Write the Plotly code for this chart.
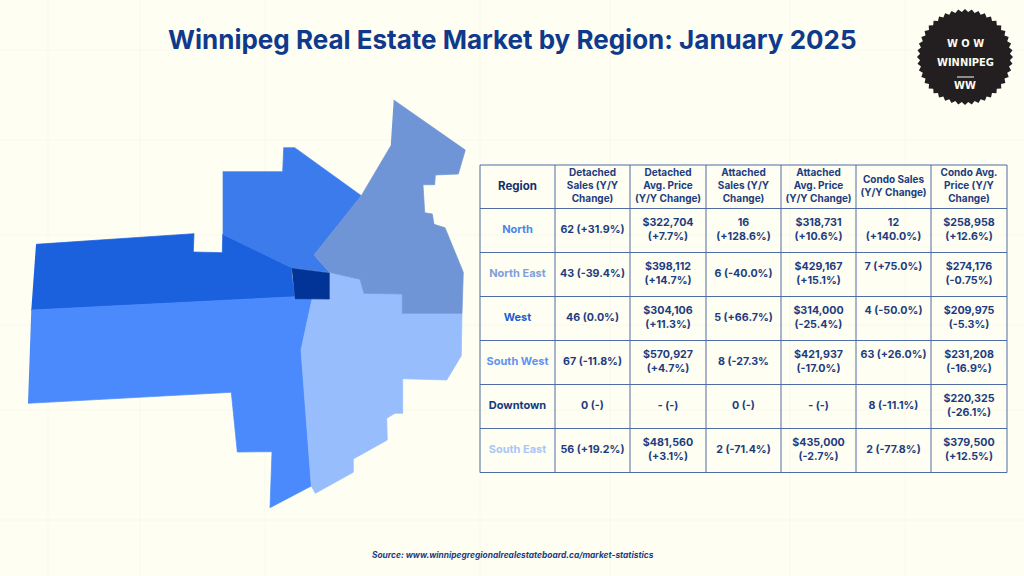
import numpy as np
import plotly.graph_objects as go

BG = "#fefef3"
NAVY = "#1d3c80"

title = "Winnipeg Real Estate Market by Region: January 2025"
source = "Source: www.winnipegregionalrealestateboard.ca/market-statistics"

# map outlines in page pixels
west_x = [36, 194, 193.3, 222.3, 222.7, 291.7, 292, 295, 31.3]
west_y = [244.3, 233.7, 252, 252.7, 234.3, 267.7, 276.7, 296.7, 310]
north_x = [222.7, 282.7, 283.7, 294.7, 361.3, 314, 329.3, 291.7, 222.7]
north_y = [171.7, 171.7, 147.7, 147.7, 195.7, 255, 272.3, 267.7, 234.3]
north_east_x = [393.7, 465.3, 458.3, 435.3, 434.7, 423, 424.7, 432.3, 434, 445, 463.3, 462, 402.3, 402.3, 364, 360, 329.3, 314, 361.3, 390.7]
north_east_y = [100, 150, 174, 175, 184.7, 184.7, 212.7, 214, 224.3, 227.7, 272.3, 313.3, 313.3, 294, 293.3, 279.3, 272.3, 255, 195.7, 146]
downtown_x = [291.7, 329.3, 329.3, 295]
downtown_y = [268.3, 273, 299, 298.7]
south_west_x = [31.3, 295, 312, 301, 311.3, 270, 272, 237.3, 231.3, 28]
south_west_y = [310, 296.7, 299, 350, 486, 507.7, 451.7, 452, 392.3, 403.3]
south_east_x = [329.3, 360, 364, 402.3, 402.3, 462, 461.3, 446.7, 402.7, 402.7, 395, 386.7, 387.3, 353.3, 353.3, 315.3, 311.3, 301, 312, 329.3]
south_east_y = [272.3, 279.3, 293.3, 294, 313.3, 313.3, 355.7, 380, 378.7, 413.3, 413.3, 418.3, 440, 459, 472.3, 493.3, 486, 350, 299, 299]

region_shapes = [
    (west_x, west_y, "#1b60dc", "West"),
    (south_west_x, south_west_y, "#4a8afc", "South West"),
    (north_x, north_y, "#3b7bec", "North"),
    (south_east_x, south_east_y, "#97bdfd", "South East"),
    (north_east_x, north_east_y, "#7095d6", "North East"),
    (downtown_x, downtown_y, "#023497", "Downtown"),
]

# table
col_edges = [480, 555, 630, 706, 781, 856, 931, 1007]
row_edges = [165, 208.5, 252.5, 296.5, 340.5, 384.5, 428.5, 472.5]

headers = [
    "Region",
    "Detached<br>Sales (Y/Y<br>Change)",
    "Detached<br>Avg. Price<br>(Y/Y Change)",
    "Attached<br>Sales (Y/Y<br>Change)",
    "Attached<br>Avg. Price<br>(Y/Y Change)",
    "Condo Sales<br>(Y/Y Change)",
    "Condo Avg.<br>Price (Y/Y<br>Change)",
]
regions = ["North", "North East", "West", "South West", "Downtown", "South East"]
region_colors = ["#4a86e8", "#7f9fdc", "#1f5fd0", "#5f93f2", "#123a80", "#aac6f6"]
detached_sales = ["62 (+31.9%)", "43 (-39.4%)", "46 (0.0%)", "67 (-11.8%)", "0 (-)", "56 (+19.2%)"]
detached_price = ["$322,704<br>(+7.7%)", "$398,112<br>(+14.7%)", "$304,106<br>(+11.3%)",
                  "$570,927<br>(+4.7%)", "- (-)", "$481,560<br>(+3.1%)"]
attached_sales = ["16<br>(+128.6%)", "6 (-40.0%)", "5 (+66.7%)", "8 (-27.3%", "0 (-)", "2 (-71.4%)"]
attached_price = ["$318,731<br>(+10.6%)", "$429,167<br>(+15.1%)", "$314,000<br>(-25.4%)",
                  "$421,937<br>(-17.0%)", "- (-)", "$435,000<br>(-2.7%)"]
condo_sales = ["12<br>(+140.0%)", "7 (+75.0%)<br> ", "4 (-50.0%)<br> ", "63 (+26.0%)<br> ", "8 (-11.1%)", "2 (-77.8%)"]
condo_price = ["$258,958<br>(+12.6%)", "$274,176<br>(-0.75%)", "$209,975<br>(-5.3%)",
               "$231,208<br>(-16.9%)", "$220,325<br>(-26.1%)", "$379,500<br>(+12.5%)"]
body_cols = [detached_sales, detached_price, attached_sales, attached_price, condo_sales, condo_price]

fig = go.Figure()

# faint paper texture
for x in [48, 140, 265, 480, 610, 790, 905]:
    fig.add_shape(type="line", x0=x, x1=x, y0=0, y1=576, line=dict(color="#f9f9ea", width=1), layer="below")
for y in [50, 140, 235, 325, 410, 520]:
    fig.add_shape(type="line", x0=0, x1=1024, y0=y, y1=y, line=dict(color="#f9f9ea", width=1), layer="below")

# thin outline in the fill colour closes the seams between regions
for xs, ys, color, name in region_shapes:
    fig.add_trace(go.Scatter(x=xs, y=ys, fill="toself", fillcolor=color, mode="lines",
                             line=dict(width=0.7, color=color), name=name, hoverinfo="name"))

# grid
for x in col_edges:
    fig.add_shape(type="line", x0=x, x1=x, y0=row_edges[0], y1=row_edges[-1], line=dict(color="#4f6ca4", width=1))
for y in row_edges:
    fig.add_shape(type="line", x0=col_edges[0], x1=col_edges[-1], y0=y, y1=y, line=dict(color="#4f6ca4", width=1))

col_mid = [(a + b) / 2 for a, b in zip(col_edges[:-1], col_edges[1:])]
row_mid = [(a + b) / 2 for a, b in zip(row_edges[:-1], row_edges[1:])]

# header row
fig.add_trace(go.Scatter(x=col_mid[1:], y=[row_mid[0]] * 6, mode="text", text=["<b>%s</b>" % h for h in headers[1:]],
                         textfont=dict(family="Inter", size=10, color=NAVY), hoverinfo="skip"))
fig.add_trace(go.Scatter(x=[col_mid[0]], y=[row_mid[0]], mode="text", text=["<b>%s</b>" % headers[0]],
                         textfont=dict(family="Inter", size=11.5, color="#14306f"), hoverinfo="skip"))
# region names
fig.add_trace(go.Scatter(x=[col_mid[0]] * 6, y=row_mid[1:], mode="text", text=["<b>%s</b>" % r for r in regions],
                         textfont=dict(family="Inter", size=11, color=region_colors), hoverinfo="skip"))
# body cells
for i, col in enumerate(body_cols):
    fig.add_trace(go.Scatter(x=[col_mid[i + 1]] * 6, y=row_mid[1:], mode="text", text=["<b>%s</b>" % c for c in col],
                             textfont=dict(family="Inter", size=10.7, color=NAVY), hoverinfo="skip"))

# logo seal
logo_x, logo_y = 965, 57
angles = np.linspace(0, 2 * np.pi, 88, endpoint=False)
radii = np.where(np.arange(88) % 2 == 0, 48, 45)
seal = "M" + " L".join("%.1f,%.1f" % (logo_x + r * np.cos(a), logo_y + r * np.sin(a)) for r, a in zip(radii, angles)) + " Z"
fig.add_shape(type="path", path=seal, fillcolor="#231f20", line=dict(width=0))
fig.add_shape(type="line", x0=957, x1=974, y0=77, y1=77, line=dict(color="#fbfbf0", width=1))
logo_text = ["W O W", "WINNIPEG", "WW"]
logo_text_y = [43, 62, 85]
for t, y in zip(logo_text, logo_text_y):
    fig.add_annotation(x=965, y=y, text="<b>%s</b>" % t, showarrow=False,
                       font=dict(family="DejaVu Sans Condensed", size=11, color="#fbfbf0"))

fig.add_annotation(x=512, y=39, text="<b>%s</b>" % title, showarrow=False,
                   font=dict(family="Inter", size=26, color="#0f3a8c"))
fig.add_annotation(x=513, y=555, text="<b><i>%s</i></b>" % source, showarrow=False,
                   font=dict(family="Inter", size=8.4, color="#1d3c80"))

fig.update_layout(
    width=1024, height=576, autosize=False,
    margin=dict(l=0, r=0, t=0, b=0),
    paper_bgcolor=BG, plot_bgcolor=BG,
    showlegend=False,
    xaxis=dict(range=[0, 1024], visible=False, fixedrange=True),
    yaxis=dict(range=[576, 0], visible=False, fixedrange=True),
)

fig.write_html("out.html", config={"displayModeBar": False},
               post_script="document.body.style.margin='0';document.body.style.background='%s';" % BG)
